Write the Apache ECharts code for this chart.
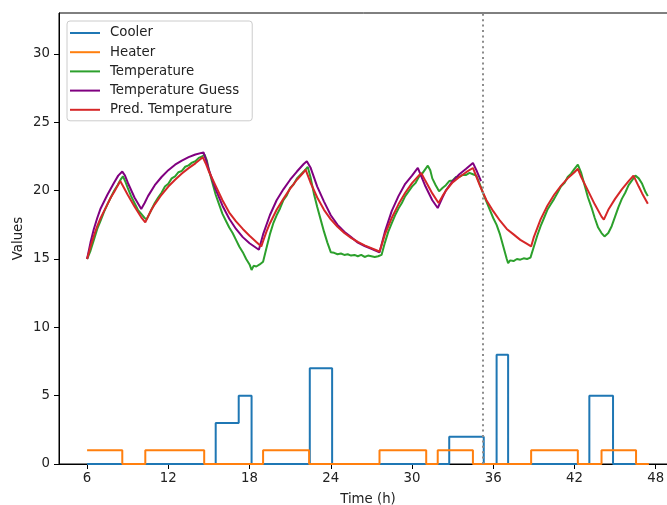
<!DOCTYPE html>
<html>
<head>
<meta charset="utf-8">
<script src="https://cdn.jsdelivr.net/npm/echarts@6/dist/echarts.min.js"></script>
<style>html,body{margin:0;padding:0;background:#fff}#chart{width:667px;height:505px}</style>
</head>
<body>
<div id="chart"></div>
<script>
const xTicks = [6, 12, 18, 24, 30, 36, 42, 48];
const yTicks = [0, 5, 10, 15, 20, 25, 30];
const splitTime = 35.23;

const cooler = [[6,0],[15.5,3],[17.2,5],[18.15,0],[22.45,7],[24.1,0],[32.75,2],[35.3,0],[36.25,8],[37.1,0],[43.1,5],[44.85,0],[47.5,0]];
const heater = [[6,1],[8.6,0],[10.3,1],[14.65,0],[19.0,1],[22.4,0],[27.6,1],[31.05,0],[31.9,1],[34.5,0],[38.8,1],[42.25,0],[44.0,1],[46.55,0],[47.5,0]];

const temperature = [
[6,15.0],[6.25,15.6],[6.5,16.4],[6.75,17.2],[7,17.8],[7.25,18.45],[7.5,19.0],[7.75,19.5],[8,20.0],[8.25,20.4],[8.5,20.85],[8.65,21.05],[8.85,20.6],[9,20.2],[9.25,19.6],[9.5,19.1],[9.75,18.6],[10,18.3],[10.25,18.0],[10.4,17.9],[10.6,18.3],[10.75,18.6],[11,19.1],[11.25,19.5],[11.5,19.85],[11.75,20.3],[12,20.5],[12.25,20.9],[12.5,21.05],[12.75,21.35],[13,21.45],[13.25,21.75],[13.5,21.85],[13.75,22.05],[14,22.15],[14.25,22.4],[14.5,22.5],[14.68,22.64],[14.85,22.2],[15,21.5],[15.25,20.6],[15.5,19.7],[15.75,19.0],[16,18.3],[16.25,17.8],[16.5,17.3],[16.75,16.9],[17,16.4],[17.25,15.9],[17.5,15.5],[17.75,15.0],[18,14.6],[18.15,14.2],[18.3,14.5],[18.5,14.45],[18.75,14.6],[19,14.8],[19.25,15.8],[19.5,16.8],[19.75,17.6],[20,18.2],[20.25,18.7],[20.5,19.3],[20.75,19.65],[21,20.2],[21.25,20.45],[21.5,20.9],[21.75,21.15],[22,21.4],[22.3,21.74],[22.5,21.0],[22.75,19.8],[23,18.8],[23.25,17.9],[23.5,17.0],[23.75,16.2],[24,15.5],[24.25,15.45],[24.5,15.35],[24.75,15.4],[25,15.3],[25.25,15.35],[25.5,15.25],[25.75,15.3],[26,15.2],[26.25,15.3],[26.5,15.15],[26.75,15.25],[27,15.2],[27.25,15.15],[27.5,15.2],[27.75,15.3],[28,16.2],[28.25,17.0],[28.5,17.6],[28.75,18.2],[29,18.7],[29.25,19.1],[29.5,19.6],[29.75,19.95],[30,20.3],[30.25,20.55],[30.5,21.0],[30.75,21.25],[31,21.6],[31.17,21.83],[31.35,21.5],[31.5,20.9],[31.75,20.4],[32,19.95],[32.25,20.2],[32.5,20.4],[32.75,20.7],[33,20.75],[33.25,21.0],[33.5,21.0],[33.75,21.15],[34,21.15],[34.25,21.3],[34.5,21.2],[34.75,21.1],[35,20.5],[35.25,19.8],[35.5,19.2],[35.75,18.6],[36,18.0],[36.25,17.5],[36.5,16.8],[36.75,15.9],[37,15.0],[37.1,14.7],[37.25,14.9],[37.5,14.85],[37.75,15.0],[38,14.95],[38.25,15.05],[38.5,15.0],[38.75,15.1],[39,15.9],[39.25,16.7],[39.5,17.4],[39.75,18.0],[40,18.6],[40.25,19.0],[40.5,19.4],[40.75,19.85],[41,20.3],[41.25,20.55],[41.5,21.0],[41.75,21.25],[42,21.6],[42.25,21.9],[42.5,21.3],[42.75,20.4],[43,19.5],[43.25,18.8],[43.5,18.0],[43.75,17.3],[44,16.9],[44.22,16.65],[44.5,16.9],[44.75,17.4],[45,18.1],[45.25,18.8],[45.5,19.4],[45.75,19.85],[46,20.4],[46.25,20.75],[46.5,21.1],[46.75,20.9],[47,20.5],[47.25,19.9],[47.42,19.6]
];

const tempGuess = [
[6,15.0],[6.25,16.2],[6.5,17.2],[6.75,18.0],[7,18.7],[7.5,19.7],[8,20.6],[8.3,21.1],[8.6,21.4],[8.8,21.1],[9,20.6],[9.5,19.5],[10,18.66],[10.25,19.1],[10.5,19.6],[11,20.4],[11.5,21.0],[12,21.5],[12.5,21.9],[13,22.2],[13.5,22.45],[14,22.65],[14.6,22.8],[14.8,22.2],[15,21.5],[15.5,20.1],[16,18.9],[16.5,17.95],[17,17.2],[17.5,16.6],[18,16.15],[18.69,15.68],[19,16.8],[19.5,18.2],[20,19.3],[20.5,20.1],[21,20.8],[21.5,21.4],[22,21.95],[22.23,22.15],[22.5,21.7],[23,20.3],[23.5,19.2],[24,18.2],[24.5,17.5],[25,17.0],[25.5,16.6],[26,16.2],[26.5,15.95],[27,15.75],[27.6,15.48],[28,17.0],[28.5,18.5],[29,19.6],[29.5,20.5],[30,21.1],[30.43,21.66],[31,20.3],[31.5,19.3],[31.9,18.73],[32.25,19.5],[32.5,20.0],[33,20.7],[33.5,21.2],[34,21.6],[34.5,22.03],[34.8,21.4],[35.1,20.7]
];

const predTemp = [
[6,15.0],[6.25,15.9],[6.5,16.7],[6.75,17.4],[7,18.0],[7.25,18.5],[7.5,19.0],[7.75,19.5],[8,19.9],[8.25,20.35],[8.45,20.7],[9,19.7],[9.5,18.85],[10,18.05],[10.3,17.68],[10.5,18.1],[10.75,18.6],[11,19.0],[11.5,19.7],[12,20.3],[12.5,20.8],[13,21.25],[13.5,21.65],[14,22.0],[14.55,22.44],[14.8,21.9],[15,21.4],[15.5,20.35],[16,19.3],[16.5,18.4],[17,17.75],[17.5,17.2],[18,16.7],[18.5,16.25],[18.87,15.92],[19,16.3],[19.25,17.0],[19.5,17.6],[20,18.6],[20.5,19.4],[21,20.15],[21.5,20.8],[22,21.35],[22.14,21.54],[22.5,20.6],[23,19.5],[23.5,18.6],[24,17.9],[24.5,17.35],[25,16.9],[25.5,16.55],[26,16.25],[26.5,16.0],[27,15.8],[27.6,15.55],[27.75,16.0],[28,16.8],[28.5,18.0],[29,19.0],[29.5,19.85],[30,20.55],[30.68,21.3],[31,20.7],[31.5,19.8],[31.96,19.1],[32.25,19.6],[32.5,20.0],[33,20.6],[33.5,21.0],[34,21.35],[34.5,21.66],[35,20.4],[35.5,19.3],[36,18.5],[36.5,17.8],[37,17.2],[37.5,16.8],[38,16.4],[38.5,16.1],[38.8,15.92],[39,16.6],[39.5,17.9],[40,18.9],[40.5,19.7],[41,20.35],[41.5,20.9],[42,21.35],[42.25,21.6],[42.5,21.0],[43,20.0],[43.5,19.0],[44,18.1],[44.17,17.88],[44.5,18.6],[45,19.4],[45.5,20.1],[46,20.7],[46.36,21.1],[46.75,20.3],[47,19.8],[47.42,19.05]
];

const FONT = 'DejaVu Sans';
const chart = echarts.init(document.getElementById('chart'), null, {renderer: 'canvas'});

function lineSeries(name, data, color, extra) {
  return Object.assign({
    name: name, type: 'line', data: data, showSymbol: false, symbol: 'none',
    lineStyle: {color: color, width: 2}, itemStyle: {color: color},
    animation: false, silent: true
  }, extra || {});
}

chart.setOption({
  animation: false,
  backgroundColor: '#fff',
  grid: {left: 59, top: 13, right: -10, bottom: 41, outerBoundsMode: 'none', containLabel: false,
         show: true, borderColor: '#000', borderWidth: 1, backgroundColor: 'transparent'},
  legend: {
    orient: 'vertical', left: 67, top: 21,
    padding: [5, 13, 4, 3], itemGap: 5.2, itemWidth: 30, itemHeight: 2,
    icon: 'rect',
    borderColor: '#cccccc', borderWidth: 1, borderRadius: 3,
    backgroundColor: 'rgba(255,255,255,0.8)',
    textStyle: {fontFamily: FONT, fontSize: 13.3, color: '#222', lineHeight: 14, padding: [0, 0, 0, 5]},
    data: ['Cooler', 'Heater', 'Temperature', 'Temperature Guess', 'Pred. Temperature']
  },
  xAxis: {
    type: 'value', min: 3.925, max: 49.575,
    name: 'Time (h)', nameLocation: 'middle', nameGap: 29, nameMoveOverlap: false,
    nameTextStyle: {fontFamily: FONT, fontSize: 13.3, color: '#222'},
    axisLine: {show: true, lineStyle: {color: '#000', width: 1}},
    axisTick: {show: true, length: 5, customValues: xTicks, lineStyle: {color: '#000'}},
    axisLabel: {customValues: xTicks, margin: 8, fontFamily: FONT, fontSize: 13.3, color: '#222'},
    splitLine: {show: false}
  },
  yAxis: {
    type: 'value', min: 0, max: 33,
    name: 'Values', nameLocation: 'middle', nameGap: 34, nameRotate: 90, nameMoveOverlap: false,
    nameTextStyle: {fontFamily: FONT, fontSize: 13.3, color: '#222'},
    axisLine: {show: true, lineStyle: {color: '#000', width: 1}},
    axisTick: {show: true, length: 5, customValues: yTicks, lineStyle: {color: '#000'}},
    axisLabel: {customValues: yTicks, margin: 9, fontFamily: FONT, fontSize: 13.3, color: '#222'},
    splitLine: {show: false}
  },
  series: [
    lineSeries('Cooler', cooler, '#1f77b4', {step: 'end'}),
    lineSeries('Heater', heater, '#ff7f0e', {step: 'end'}),
    lineSeries('Temperature', temperature, '#2ca02c'),
    lineSeries('Temperature Guess', tempGuess, '#800080'),
    lineSeries('Pred. Temperature', predTemp, '#d62728', {
      markLine: {
        silent: true, symbol: ['none', 'none'], label: {show: false},
        lineStyle: {color: '#8c8c8c', type: [2, 3.4], width: 2},
        data: [{xAxis: splitTime}]
      }
    })
  ]
});
</script>
</body>
</html>
